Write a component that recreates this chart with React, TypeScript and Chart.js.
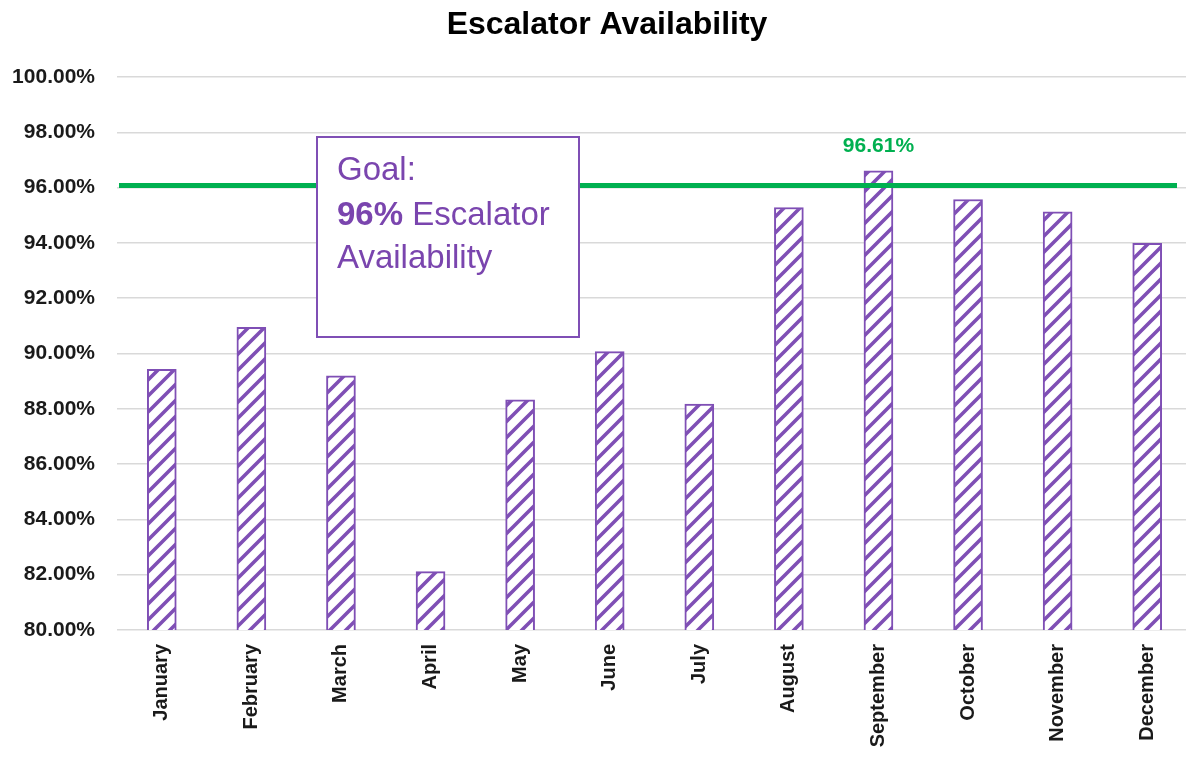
import React, { useEffect, useRef } from 'react';
import { Chart, registerables } from 'chart.js';

Chart.register(...registerables);

const TITLE = 'Escalator Availability';
const MONTHS = [
  'January', 'February', 'March', 'April', 'May', 'June',
  'July', 'August', 'September', 'October', 'November', 'December',
];
const AVAILABILITY = [89.43, 90.95, 89.19, 82.11, 88.32, 90.07, 88.17, 95.28, 96.61, 95.57, 95.12, 93.98];
const GOAL = 96.08;
const Y_MIN = 80;
const Y_MAX = 100;
const Y_STEP = 2;
const GOAL_LINE1 = 'Goal:';
const GOAL_BOLD = '96%';
const GOAL_REST = ' Escalator';
const GOAL_LINE3 = 'Availability';

const FONT = "'Liberation Sans', Arial, sans-serif";
const PURPLE = '#7F4FB5';
const TEXT_PURPLE = '#7A45AE';
const GREEN = '#00B050';

function makePattern(): CanvasPattern | string {
  const s = 16;
  const c = document.createElement('canvas');
  c.width = s;
  c.height = s;
  const g = c.getContext('2d');
  if (!g) return PURPLE;
  g.fillStyle = '#ffffff';
  g.fillRect(0, 0, s, s);
  g.strokeStyle = PURPLE;
  g.lineWidth = 3.6;
  g.lineCap = 'square';
  g.beginPath();
  g.moveTo(0, s);
  g.lineTo(s, 0);
  g.moveTo(-s / 2, s / 2);
  g.lineTo(s / 2, -s / 2);
  g.moveTo(s / 2, s + s / 2);
  g.lineTo(s + s / 2, s / 2);
  g.stroke();
  const p = g.createPattern(c, 'repeat');
  return p || PURPLE;
}

const overlayPlugin = {
  id: 'overlay',
  afterDraw(chart: any) {
    const { ctx, chartArea, scales } = chart;
    const y = scales.y;
    ctx.save();
    // goal line
    const gy = y.getPixelForValue(GOAL);
    ctx.strokeStyle = GREEN;
    ctx.lineWidth = 5;
    ctx.lineCap = 'butt';
    ctx.beginPath();
    ctx.moveTo(chartArea.left + 2, gy);
    ctx.lineTo(chartArea.right - 15, gy);
    ctx.stroke();

    // data label on the maximum bar
    const meta = chart.getDatasetMeta(0);
    let maxI = 0;
    AVAILABILITY.forEach((v, i) => { if (v > AVAILABILITY[maxI]) maxI = i; });
    const bar = meta.data[maxI];
    ctx.fillStyle = GREEN;
    ctx.font = `bold 21px ${FONT}`;
    ctx.textAlign = 'center';
    ctx.textBaseline = 'middle';
    ctx.fillText(AVAILABILITY[maxI].toFixed(2) + '%', bar.x, bar.y - 25);

    // goal text box
    const bx = chartArea.left + 200;
    const by = chartArea.top + 60;
    const bw = 262;
    const bh = 200;
    ctx.fillStyle = '#ffffff';
    ctx.fillRect(bx, by, bw, bh);
    ctx.strokeStyle = PURPLE;
    ctx.lineWidth = 2;
    ctx.strokeRect(bx, by, bw, bh);
    ctx.fillStyle = TEXT_PURPLE;
    ctx.textAlign = 'left';
    ctx.textBaseline = 'alphabetic';
    const tx = bx + 20;
    ctx.font = `33px ${FONT}`;
    ctx.fillText(GOAL_LINE1, tx, by + 43);
    ctx.font = `bold 33px ${FONT}`;
    ctx.fillText(GOAL_BOLD, tx, by + 88);
    const w = ctx.measureText(GOAL_BOLD).width;
    ctx.font = `33px ${FONT}`;
    ctx.fillText(GOAL_REST, tx + w, by + 88);
    ctx.fillText(GOAL_LINE3, tx, by + 131);
    ctx.restore();
  },
};

export default function App() {
  const ref = useRef<HTMLCanvasElement | null>(null);

  useEffect(() => {
    if (!ref.current) return;
    Chart.defaults.font.family = FONT;
    const chart = new Chart(ref.current, {
      type: 'bar',
      data: {
        labels: MONTHS,
        datasets: [
          {
            label: 'Availability',
            data: AVAILABILITY,
            backgroundColor: makePattern() as any,
            borderColor: PURPLE,
            borderWidth: 2,
            borderSkipped: false,
            barThickness: 29,
          },
        ],
      },
      options: {
        responsive: false,
        animation: false,
        devicePixelRatio: 1,
        layout: { padding: 0 },
        plugins: {
          legend: { display: false },
          tooltip: { enabled: false },
          title: {
            display: true,
            text: TITLE,
            color: '#000000',
            font: { size: 32, weight: 'bold', family: FONT, lineHeight: 1.2 },
            padding: { top: 6, bottom: 32.6 },
          },
        },
        scales: {
          x: {
            grid: { display: false, drawTicks: false },
            border: { display: false },
            ticks: {
              autoSkip: false,
              maxRotation: 90,
              minRotation: 90,
              padding: 14,
              color: '#1a1a1a',
              font: { size: 20, weight: 'bold', family: FONT },
            },
            afterFit: (s: any) => { s.height = 128; },
          },
          y: {
            min: Y_MIN,
            max: Y_MAX,
            grid: { color: '#D9D9D9', lineWidth: 1.5, drawTicks: false },
            border: { display: false },
            ticks: {
              stepSize: Y_STEP,
              padding: 22,
              color: '#1a1a1a',
              font: { size: 21, weight: 'bold', family: FONT },
              callback: (v: any) => Number(v).toFixed(2) + '%',
            },
            afterFit: (s: any) => { s.width = 117; },
          },
          pad: {
            type: 'linear',
            position: 'right',
            display: true,
            grid: { display: false, drawTicks: false },
            border: { display: false },
            ticks: { display: false },
            afterFit: (s: any) => { s.width = 22; },
          },
        },
      } as any,
      plugins: [overlayPlugin],
    });
    return () => chart.destroy();
  }, []);

  return (
    <div
      style={{
        position: 'fixed',
        left: 0,
        top: 0,
        width: 1186,
        height: 758,
        overflow: 'hidden',
        background: '#ffffff',
      }}
    >
      <canvas ref={ref} width={1214} height={758} style={{ display: 'block' }} />
    </div>
  );
}
